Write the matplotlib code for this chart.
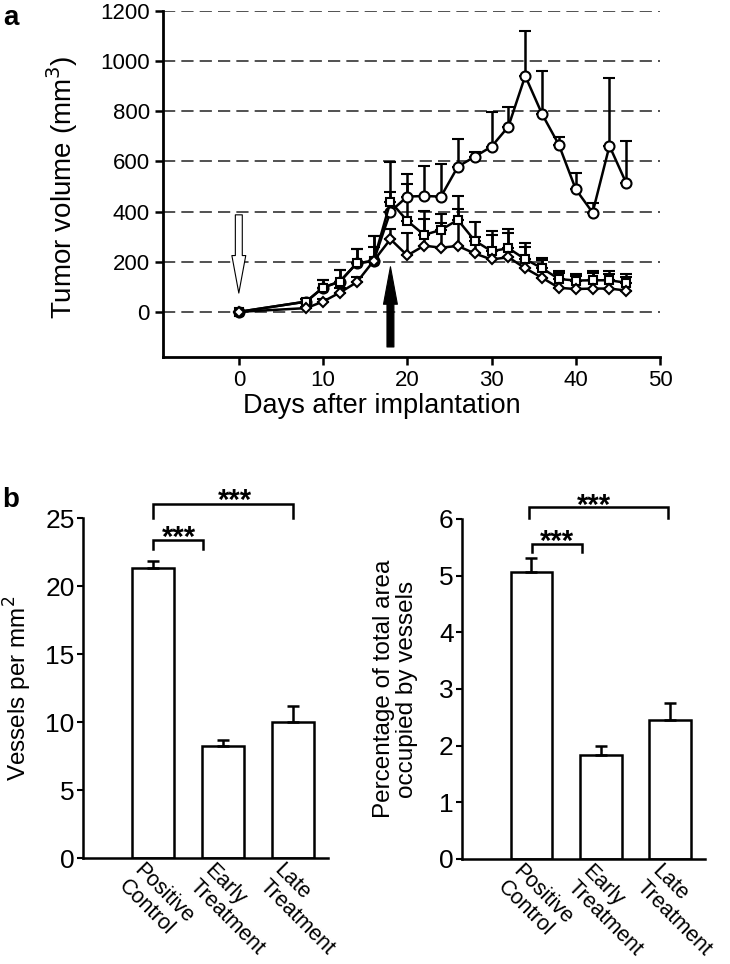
import matplotlib.pyplot as plt
import matplotlib.transforms as mtransforms
from matplotlib.patches import FancyArrowPatch

plt.rcParams['font.family'] = ['Liberation Sans', 'DejaVu Sans']

# ---- panel a data ----
days = [0, 8, 10, 12, 14, 16, 18, 20, 22, 24, 26, 28, 30, 32, 34, 36, 38, 40, 42, 44, 46]

control = [0, 41, 97, 121, 194, 203, 400, 460, 462, 460, 579, 619, 659, 739, 941, 789, 666, 489, 396, 662, 513]
control_err = [0, 9, 31, 44, 57, 100, 80, 90, 121, 129, 111, 20, 137, 80, 181, 173, 33, 64, 37, 270, 170]

late = [0, 41, 97, 121, 194, 203, 440, 363, 307, 327, 367, 284, 242, 254, 210, 174, 131, 125, 126, 126, 116]
late_err = [0, 9, 31, 44, 57, 100, 159, 146, 95, 63, 96, 74, 82, 76, 64, 40, 32, 27, 37, 37, 36]

early = [0, 15, 41, 77, 118, 203, 290, 225, 264, 256, 263, 233, 209, 218, 174, 136, 96, 91, 93, 93, 85]
early_err = [0, 5, 9, 18, 22, 57, 40, 89, 106, 100, 147, 67, 98, 98, 86, 69, 58, 53, 61, 59, 53]

# ---- panel b data ----
groups = ['Positive\nControl', 'Early\nTreatment', 'Late\nTreatment']
vessels = [21.3, 8.2, 10.0]
vessels_err = [0.56, 0.45, 1.2]
area_pct = [5.06, 1.83, 2.45]
area_pct_err = [0.25, 0.17, 0.30]

W, H = 730, 964
fig = plt.figure(figsize=(W / 100, H / 100), dpi=100)


def px_axes(left, top, right, bottom):
    return fig.add_axes([left / W, 1 - bottom / H, (right - left) / W, (bottom - top) / H])


# ================= panel a =================
ax = px_axes(163, 11, 660, 357)
ax.set_xlim(-9, 50)
ax.set_ylim(-180, 1200)
for v in range(0, 1201, 200):
    ax.axhline(v, color='#222222', lw=1.1, ls=(0, (8, 4)), zorder=0)

series = [
    (control, control_err, 'o', 7.2),
    (late, late_err, 's', 6.4),
    (early, early_err, 'D', 5.6),
]
for vals, err, mk, ms in series:
    ax.errorbar(days, vals, yerr=[[0] * len(err), err], fmt='-' + mk, color='black',
                lw=1.8, ms=ms, mfc='white', mec='black', mew=1.5,
                ecolor='black', elinewidth=1.8, capsize=4, capthick=1.8)

# treatment start arrows
arrow_style = 'simple,head_length=2.7,head_width=1.0,tail_width=0.5'
ax.add_patch(FancyArrowPatch((0, 387), (0, 75), arrowstyle=arrow_style, mutation_scale=10,
                             fc='white', ec='black', lw=0.8, shrinkA=0, shrinkB=0, zorder=5))
ax.add_patch(FancyArrowPatch((18, -140), (18, 180), arrowstyle=arrow_style, mutation_scale=10,
                             fc='black', ec='black', lw=0.8, shrinkA=0, shrinkB=0, zorder=5))

ax.set_xticks(range(0, 51, 10))
ax.set_yticks(range(0, 1201, 200))
ax.tick_params(labelsize=16, length=6, width=1.8, direction='out')
for s in ['top', 'right']:
    ax.spines[s].set_visible(False)
for s in ['left', 'bottom']:
    ax.spines[s].set_linewidth(2.0)
ax.set_ylabel('Tumor volume (mm$^3$)', fontsize=20)
ax.yaxis.set_label_coords(-0.168, 0.49)
ax.set_xlabel('Days after implantation', fontsize=19.5)
ax.xaxis.set_label_coords((382 - 163) / 497, -0.105)
fig.text(3 / W, 1 - 5 / H, 'a', fontsize=20, fontweight='bold', va='top', ha='left')


# ================= panel b =================
def bar_panel(box, vals, errs, ylim, yticks, ylabel, ylab_x, brackets):
    bx = px_axes(*box)
    x = [1, 2, 3]
    bx.bar(x, vals, width=0.6, color='white', edgecolor='black', lw=1.8, zorder=2)
    bx.errorbar(x, vals, yerr=[[0, 0, 0], errs], fmt='none', ecolor='black',
                elinewidth=1.8, capsize=4, capthick=1.8, zorder=3)
    bx.set_xlim(0, 3.5)
    bx.set_ylim(*ylim)
    bx.set_yticks(yticks)
    bx.set_xticks([])
    bx.tick_params(axis='y', labelsize=19, length=4, width=1.5, pad=2, direction='out')
    for s in ['top', 'right']:
        bx.spines[s].set_visible(False)
    for s in ['left', 'bottom']:
        bx.spines[s].set_linewidth(1.8)
    bx.set_ylabel(ylabel, fontsize=17.5, linespacing=1.05)
    bx.yaxis.set_label_coords(ylab_x, 0.5)

    trans = mtransforms.blended_transform_factory(bx.transData, bx.transAxes)
    off = mtransforms.ScaledTranslation(-8 / 100, -2 / 100, fig.dpi_scale_trans)
    for xi, name in zip(x, groups):
        bx.text(xi, 0, name, transform=trans + off, rotation=-45, rotation_mode='anchor',
                ha='left', va='top', multialignment='left', fontsize=15.5, linespacing=1.05)

    for x0, x1, ytop, yleg, xs, ys in brackets:
        bx.plot([x0, x0, x1, x1], [yleg, ytop, ytop, yleg], color='black', lw=1.8,
                clip_on=False, solid_joinstyle='miter')
        bx.text(xs, ys, '***', ha='center', va='baseline', fontsize=21, fontweight='bold')
    return bx


bar_panel((83, 518, 328, 858), vessels, vessels_err, (0, 25), range(0, 26, 5),
          'Vessels per mm$^2$', -0.2,
          [(1.0, 1.71, 23.4, 22.7, 1.37, 22.96),
           (1.0, 3.0, 26.05, 25.0, 2.17, 25.65)])
bar_panel((462, 519, 705, 859), area_pct, area_pct_err, (0, 6), range(0, 7),
          'Percentage of total area\noccupied by vessels', -0.18,
          [(1.01, 1.73, 5.56, 5.41, 1.37, 5.46),
           (0.97, 2.97, 6.21, 6.01, 1.90, 6.095)])
fig.text(2 / W, 1 - 487 / H, 'b', fontsize=20, fontweight='bold', va='top', ha='left')

fig.savefig('out.png', dpi=100)
